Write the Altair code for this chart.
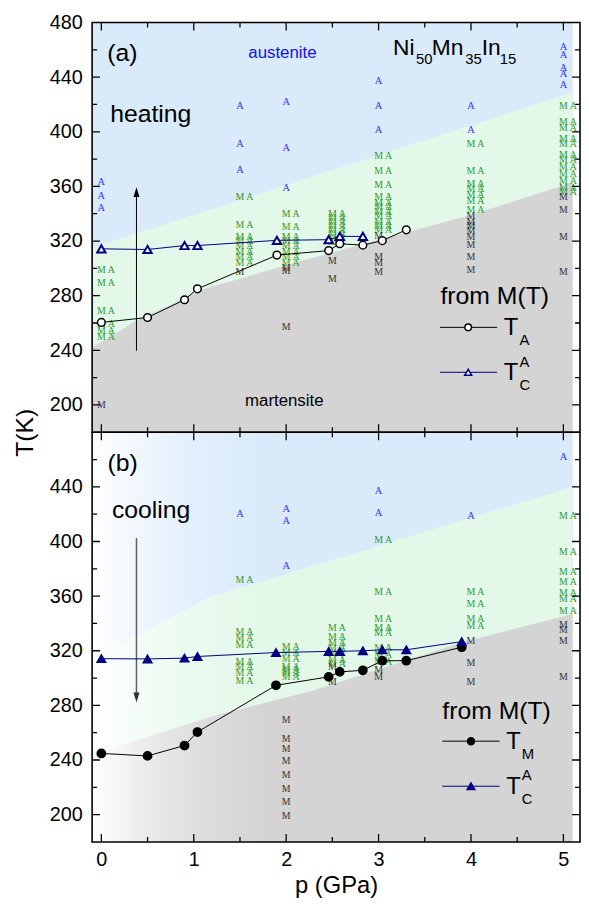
import altair as alt
import pandas as pd

FONT = "Liberation Sans"
SERIF = "Liberation Serif"

# ---------------- transition temperatures from M(T) ----------------
p_TA = [0, 0.5, 0.9, 1.04, 1.9, 2.46, 2.58, 2.83, 3.04, 3.3]
T_TA = [260.4, 264.0, 277.0, 285.0, 309.7, 313.0, 318.0, 317.0, 320.3, 328.2]
p_TCA_heat = [0, 0.5, 0.9, 1.04, 1.9, 2.46, 2.58, 2.83]
T_TCA_heat = [314.3, 313.8, 316.7, 316.7, 320.5, 321.0, 323.4, 323.4]

p_TM = [0, 0.5, 0.9, 1.04, 1.89, 2.46, 2.58, 2.83, 3.04, 3.3, 3.9]
T_TM = [244.8, 243.0, 250.6, 260.5, 294.7, 300.9, 304.5, 305.7, 312.7, 312.7, 322.6]
p_TCA_cool = [0, 0.5, 0.9, 1.04, 1.89, 2.46, 2.58, 2.83, 3.04, 3.3, 3.9]
T_TCA_cool = [314.2, 314.0, 314.6, 315.8, 318.7, 319.5, 319.5, 320.0, 320.7, 320.7, 326.7]

# ---------------- phase-region boundaries ----------------
blue_p_a = [-0.1, 5.1]
blue_T_a = [315, 429]
gray_p_a = [-0.1, 0.1, 0.38, 0.77, 1.06, 2.3, 4.0, 5.1]
gray_T_a = [242, 250, 262, 274, 284, 308, 339, 363]
blue_p_b = [-0.1, 0.385, 1.16, 5.1]
blue_T_b = [313, 331, 359, 440]
gray_p_b = [-0.1, 1.2, 2.3, 3.9, 5.1]
gray_T_b = [244, 272, 291, 326, 347]

# ---------------- phase labels (pressure -> temperatures) ----------------
A_heat = {0: [363, 353, 344], 1.5: [419, 391, 372], 2: [422, 388, 359],
          3: [437, 419, 401], 4: [419, 401], 5: [462, 456, 447, 442, 434]}
MA_heat = {0: [299, 289, 269, 259, 254, 250],
           1.5: [352, 332, 323, 320, 316, 312, 308, 304],
           2: [340, 330, 323, 320, 316, 312, 308, 304],
           2.5: [340, 337, 334, 331, 328, 325, 322, 319],
           3: [382, 371, 361, 352, 348, 345, 341, 338, 334, 331, 328],
           4: [391, 371, 362, 358, 354, 349, 343],
           5: [419, 407, 403, 395, 391, 383, 379, 374, 369, 364, 359, 356]}
M_heat = {0: [200], 1.5: [297], 2: [298, 300, 257], 2.5: [305, 292],
          3: [324, 308, 304, 297], 4: [338, 334, 331, 327, 323, 317, 308, 299],
          5: [352, 343, 323, 297]}

A_cool = {1.5: [420], 2: [424, 415, 382], 3: [437, 421], 4: [419], 5: [462]}
MA_cool = {1.5: [372, 334, 329, 324, 312, 308, 304, 298],
           2: [323, 318, 314, 308, 306, 304, 301],
           2.5: [337, 330, 326, 322, 318, 313, 310],
           3: [401, 363, 343, 337, 333, 322, 317, 312],
           4: [363, 354, 343, 338],
           5: [419, 392, 378, 370, 362, 358, 349]}
M_cool = {2: [269, 255, 248, 239, 229, 219, 209, 199], 2.5: [308, 297],
          3: [306, 301], 4: [327, 311, 297], 5: [339, 335, 327, 301]}

X_MAJOR = [0, 1, 2, 3, 4, 5]
X_MINOR = [0.5, 1.5, 2.5, 3.5, 4.5]
Y_LABELS_A = [200, 240, 280, 320, 360, 400, 440, 480]
Y_LABELS_B = [200, 240, 280, 320, 360, 400, 440]
Y_MAJOR = [200, 240, 280, 320, 360, 400, 440]
Y_MINOR = [220, 260, 300, 340, 380, 420, 460]

C_BLUE = "#d9eafb"
C_GREEN = "#e3f8e9"
C_GRAY = "#d4d4d4"
C_NAVY = "#000080"

P_MIN, P_MAX = -0.1, 5.18
T_MIN, T_MAX = 180, 480
xs = alt.Scale(domain=[P_MIN, P_MAX], nice=False, zero=False)
ys = alt.Scale(domain=[T_MIN, T_MAX], nice=False, zero=False)
W = 493
H = 414


def mix(hexc, f):
    c = [int(hexc[i:i + 2], 16) for i in (1, 3, 5)]
    return "#%02x%02x%02x" % tuple(round(255 - f * (255 - v)) for v in c)


def fade(c):
    return alt.LinearGradient(
        gradient="linear", x1=0, x2=1, y1=0, y2=0,
        stops=[alt.GradientStop(color="#ffffff", offset=0),
               alt.GradientStop(color=mix(c, 0.47), offset=0.115),
               alt.GradientStop(color=mix(c, 0.77), offset=0.22),
               alt.GradientStop(color=c, offset=0.36),
               alt.GradientStop(color=c, offset=1)])


def X(ax=None):
    if ax is None:
        return alt.X("p:Q", scale=xs, axis=None)
    return alt.X("p:Q", scale=xs, axis=ax)


def Y(ax=None):
    if ax is None:
        return alt.Y("T:Q", scale=ys, axis=None)
    return alt.Y("T:Q", scale=ys, axis=ax)


def letters(d):
    rows = [(p, t) for p, ts in d.items() for t in ts]
    return pd.DataFrame(rows, columns=["p", "T"])


def txt(p, T, s, size, color="black", font=FONT, align="left",
        baseline="alphabetic"):
    df = pd.DataFrame({"p": [p], "T": [T], "s": [s]})
    return alt.Chart(df).mark_text(
        align=align, baseline=baseline, font=font, fontSize=size, color=color
    ).encode(x=X(), y=Y(), text="s:N")


def series(ps, Ts, color, shape, filled_fill, size, sw=1.0, psw=1.5):
    df = pd.DataFrame({"p": ps, "T": Ts})
    line = alt.Chart(df).mark_line(color=color, strokeWidth=sw).encode(x=X(), y=Y())
    pts = alt.Chart(df).mark_point(
        shape=shape, filled=True, fill=filled_fill, stroke=color,
        strokeWidth=psw, size=size, opacity=1
    ).encode(x=X(), y=Y())
    return [line, pts]


def legend_entry(p0, p1, pm, T, color, shape, fill, size):
    df_l = pd.DataFrame({"p": [p0, p1], "T": [T, T]})
    df_m = pd.DataFrame({"p": [pm], "T": [T]})
    line = alt.Chart(df_l).mark_line(color=color, strokeWidth=1).encode(x=X(), y=Y())
    pt = alt.Chart(df_m).mark_point(shape=shape, filled=True, fill=fill, stroke=color,
                                    strokeWidth=1.5, size=size, opacity=1).encode(x=X(), y=Y())
    return [line, pt]


def tick_layer(ps, Ts, orient, length):
    df = pd.DataFrame({"p": ps, "T": Ts})
    return alt.Chart(df).mark_tick(
        orient=orient, size=2 * length, thickness=1.3, color="black", clip=True, opacity=1
    ).encode(x=X(), y=Y())


def frame_ticks():
    out = []
    for T_edge in (T_MIN, T_MAX):
        out.append(tick_layer(X_MAJOR, [T_edge] * len(X_MAJOR), "vertical", 8))
        out.append(tick_layer(X_MINOR, [T_edge] * len(X_MINOR), "vertical", 5))
    for p_edge in (P_MIN, P_MAX):
        out.append(tick_layer([p_edge] * len(Y_MAJOR), Y_MAJOR, "horizontal", 8))
        out.append(tick_layer([p_edge] * len(Y_MINOR), Y_MINOR, "horizontal", 5))
    fr = pd.DataFrame({"p": [P_MIN], "p2": [P_MAX], "T": [T_MIN], "T2": [T_MAX]})
    out.append(alt.Chart(fr).mark_rect(
        fillOpacity=0, stroke="black", strokeWidth=1.6
    ).encode(x=X(), x2="p2:Q", y=Y(), y2="T2:Q"))
    return out


def build_panel(heating):
    fill = (lambda c: c) if heating else fade
    lab_kw = dict(labels=True, labelFont=FONT, labelFontSize=20, labelColor="black",
                  labelFlush=False, ticks=False, domain=False, grid=False)
    if heating:
        ax_x = alt.Axis(values=X_MAJOR, ticks=False, domain=False, grid=False,
                        labels=False, title=None)
        ax_y = alt.Axis(values=Y_LABELS_A, labelPadding=10, title="T(K)",
                        titleFont=FONT, titleFontSize=25, titleFontWeight="normal",
                        titleColor="black", titleAngle=270, titleAlign="center",
                        titleBaseline="middle", titleX=-68, titleY=H, **lab_kw)
    else:
        ax_x = alt.Axis(values=X_MAJOR, labelPadding=8, title="p (GPa)",
                        titleFont=FONT, titleFontSize=24, titleFontWeight="normal",
                        titleColor="black", titlePadding=4, **lab_kw)
        ax_y = alt.Axis(values=Y_LABELS_B, labelPadding=10, title=None, **lab_kw)

    bp, bT = (blue_p_a, blue_T_a) if heating else (blue_p_b, blue_T_b)
    gp, gT = (gray_p_a, gray_T_a) if heating else (gray_p_b, gray_T_b)
    df_rect = pd.DataFrame({"p": [-0.1], "p2": [5.1], "T": [T_MIN], "T2": [T_MAX]})
    df_b = pd.DataFrame({"p": bp, "T": bT, "base": [T_MIN] * len(bp)})
    df_g = pd.DataFrame({"p": gp, "T": gT, "base": [T_MIN] * len(gp)})

    layers = []
    layers.append(alt.Chart(df_rect).mark_rect(color=fill(C_BLUE)).encode(
        x=X(ax_x), x2="p2:Q", y=Y(ax_y), y2="T2:Q"))
    layers.append(alt.Chart(df_b).mark_area(color=fill(C_GREEN)).encode(
        x=X(), y=Y(), y2="base:Q"))
    layers.append(alt.Chart(df_g).mark_area(color=fill(C_GRAY)).encode(
        x=X(), y=Y(), y2="base:Q"))

    A_d, MA_d, M_d = (A_heat, MA_heat, M_heat) if heating else (A_cool, MA_cool, M_cool)
    layers.append(alt.Chart(letters(A_d)).mark_text(
        text="A", font=SERIF, fontSize=10.5, color="#3535ff", align="center", baseline="middle"
    ).encode(x=X(), y=Y()))
    layers.append(alt.Chart(letters(MA_d)).mark_text(
        text="M A", font=SERIF, fontSize=10, color="#2f9a2f", align="left",
        baseline="middle", dx=-4.4).encode(x=X(), y=Y()))
    layers.append(alt.Chart(letters(M_d)).mark_text(
        text="M", font=SERIF, fontSize=10, color="#333333", align="center",
        baseline="middle").encode(x=X(), y=Y()))

    if heating:
        layers += [
            txt(0.064, 451.7, "(a)", 25),
            txt(0.096, 407.3, "heating", 25),
            txt(1.59, 454.1, "austenite", 17, color="#1010f0"),
            txt(1.555, 199.4, "martensite", 17),
            txt(3.156, 456.5, "Ni", 23), txt(3.404, 449.3, "50", 15),
            txt(3.575, 456.5, "Mn", 23), txt(3.938, 449.3, "35", 15),
            txt(4.116, 456.5, "In", 23), txt(4.312, 449.3, "15", 15),
        ]
        arrow = pd.DataFrame({"p": [0.38], "T": [239.7], "T2": [356.0]})
        layers.append(alt.Chart(arrow).mark_rule(color="black", strokeWidth=1).encode(
            x=X(), y=Y(), y2="T2:Q"))
        head = pd.DataFrame({"p": [0.38], "T": [355.8]})
        layers.append(alt.Chart(head).mark_point(
            shape="M0,-1L0.6,1L-0.6,1Z", filled=True, color="black", size=100, opacity=1
        ).encode(x=X(), y=Y()))
        layers += series(p_TA, T_TA, "black", "circle", "white", 60)
        layers += series(p_TCA_heat, T_TCA_heat, C_NAVY, "triangle-up", "white", 70, psw=2)
        layers.append(txt(3.67, 274.2, "from M(T)", 25))
        layers += legend_entry(3.664, 4.283, 3.97, 256.8, "black", "circle", "white", 45)
        layers += [txt(4.354, 251.4, "T", 24), txt(4.525, 244.2, "A", 15)]
        layers += legend_entry(3.664, 4.283, 3.97, 223.9, C_NAVY, "triangle-up", "white", 50)
        layers += [txt(4.354, 217.9, "T", 24), txt(4.525, 227.5, "A", 15),
                   txt(4.525, 210.7, "C", 15)]
    else:
        layers += [
            txt(0.067, 451.8, "(b)", 25),
            txt(0.114, 417.0, "cooling", 25),
        ]
        arrow = pd.DataFrame({"p": [0.38], "T": [402.5], "T2": [286.0]})
        layers.append(alt.Chart(arrow).mark_rule(color="#606060", strokeWidth=1.5).encode(
            x=X(), y=Y(), y2="T2:Q"))
        head = pd.DataFrame({"p": [0.38], "T": [285.8]})
        layers.append(alt.Chart(head).mark_point(
            shape="M0,1L0.6,-1L-0.6,-1Z", filled=True, color="#303030", size=100, opacity=1
        ).encode(x=X(), y=Y()))
        layers += series(p_TM, T_TM, "black", "circle", "black", 70)
        layers += series(p_TCA_cool, T_TCA_cool, C_NAVY, "triangle-up", C_NAVY, 75)
        layers.append(txt(3.69, 270.1, "from M(T)", 25))
        layers += legend_entry(3.69, 4.31, 4.0, 253.8, "black", "circle", "black", 50)
        layers += [txt(4.383, 248.4, "T", 24), txt(4.55, 240.5, "M", 15)]
        layers += legend_entry(3.69, 4.31, 4.0, 220.8, C_NAVY, "triangle-up", C_NAVY, 60)
        layers += [txt(4.383, 214.8, "T", 24), txt(4.55, 225.1, "A", 15),
                   txt(4.55, 207.6, "C", 15)]

    layers += frame_ticks()
    return alt.layer(*layers).resolve_axis(x="independent", y="independent").properties(
        width=W, height=H)


chart = alt.vconcat(build_panel(True), build_panel(False), spacing=0, bounds="flush").properties(
    padding={"left": 5, "top": 0, "right": 0, "bottom": 0}
).configure_view(strokeWidth=0)

chart.save("out.html", embed_options={"renderer": "svg", "actions": False})
